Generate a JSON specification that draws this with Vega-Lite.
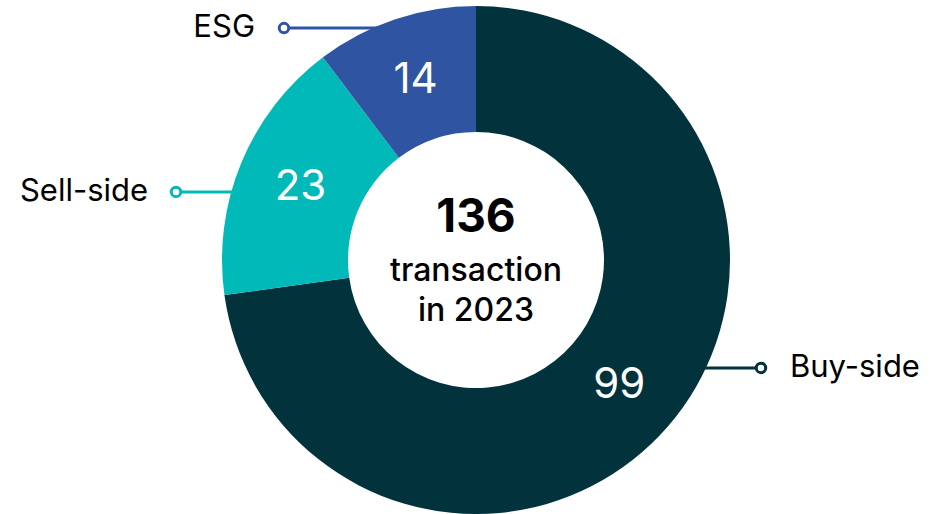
{
  "$schema": "https://vega.github.io/schema/vega-lite/v6.json",
  "autosize": {"type": "fit", "contains": "padding"},
  "width": 940,
  "height": 514,
  "padding": {"left": 12, "top": 6, "right": 0, "bottom": 0},
  "background": "white",
  "config": {"view": {"stroke": null}, "font": "Inter"},
  "datasets": {
    "segments": [
      {"category": "Buy-side", "value": 99, "order": 1},
      {"category": "Sell-side", "value": 23, "order": 2},
      {"category": "ESG", "value": 14, "order": 3}
    ],
    "callouts": [
      {"category": "ESG", "side": "left", "dot_x": -0.756, "edge_x": -0.3, "label_x": -0.87, "y": 0.913},
      {"category": "Sell-side", "side": "left", "dot_x": -1.181, "edge_x": -0.85, "label_x": -1.291, "y": 0.268},
      {"category": "Buy-side", "side": "right", "dot_x": 1.122, "edge_x": 0.8, "label_x": 1.236, "y": -0.425}
    ],
    "center": [
      {"line": "136", "kind": "total", "x": 0, "y": 0.165},
      {"line": "transaction", "kind": "caption", "x": 0, "y": -0.043},
      {"line": "in 2023", "kind": "caption", "x": 0, "y": -0.2}
    ]
  },
  "layer": [
    {
      "data": {"name": "callouts"},
      "mark": {"type": "rule", "strokeWidth": 3},
      "encoding": {
        "x": {"field": "dot_x", "type": "quantitative", "scale": {"domain": [-1.8268, 1.8268], "nice": false, "zero": false}, "axis": null},
        "x2": {"field": "edge_x"},
        "y": {"field": "y", "type": "quantitative", "scale": {"domain": [-1, 1], "nice": false, "zero": false}, "axis": null},
        "color": {"field": "category", "type": "nominal", "scale": {"domain": ["Buy-side", "Sell-side", "ESG"], "range": ["#02333D", "#00B9B8", "#2F54A1"]}, "legend": null}
      }
    },
    {
      "data": {"name": "segments"},
      "mark": {"type": "arc", "outerRadius": 254, "innerRadius": 128},
      "encoding": {
        "theta": {"field": "value", "type": "quantitative", "stack": true},
        "order": {"field": "order", "type": "quantitative"},
        "color": {"field": "category", "type": "nominal", "scale": {"domain": ["Buy-side", "Sell-side", "ESG"], "range": ["#02333D", "#00B9B8", "#2F54A1"]}, "legend": null}
      }
    },
    {
      "data": {"name": "segments"},
      "mark": {"type": "text", "radius": 190, "fontSize": 42, "fontWeight": 400, "fill": "white"},
      "encoding": {
        "theta": {"field": "value", "type": "quantitative", "stack": true},
        "order": {"field": "order", "type": "quantitative"},
        "text": {"field": "value", "type": "quantitative"}
      }
    },
    {
      "data": {"name": "callouts"},
      "mark": {"type": "point", "shape": "circle", "filled": false, "fill": "white", "strokeWidth": 3, "size": 90, "opacity": 1},
      "encoding": {
        "x": {"field": "dot_x", "type": "quantitative"},
        "y": {"field": "y", "type": "quantitative"},
        "color": {"field": "category", "type": "nominal", "scale": {"domain": ["Buy-side", "Sell-side", "ESG"], "range": ["#02333D", "#00B9B8", "#2F54A1"]}, "legend": null}
      }
    },
    {
      "data": {"name": "callouts"},
      "transform": [{"filter": "datum.side === 'left'"}],
      "mark": {"type": "text", "align": "right", "baseline": "middle", "fontSize": 31, "fontWeight": 400, "fill": "black"},
      "encoding": {
        "x": {"field": "label_x", "type": "quantitative"},
        "y": {"field": "y", "type": "quantitative"},
        "text": {"field": "category", "type": "nominal"}
      }
    },
    {
      "data": {"name": "callouts"},
      "transform": [{"filter": "datum.side === 'right'"}],
      "mark": {"type": "text", "align": "left", "baseline": "middle", "fontSize": 31, "fontWeight": 400, "fill": "black"},
      "encoding": {
        "x": {"field": "label_x", "type": "quantitative"},
        "y": {"field": "y", "type": "quantitative"},
        "text": {"field": "category", "type": "nominal"}
      }
    },
    {
      "data": {"name": "center"},
      "transform": [{"filter": "datum.kind === 'total'"}],
      "mark": {"type": "text", "align": "center", "baseline": "middle", "fontSize": 46, "fontWeight": "bold", "fill": "black"},
      "encoding": {
        "x": {"field": "x", "type": "quantitative"},
        "y": {"field": "y", "type": "quantitative"},
        "text": {"field": "line", "type": "nominal"}
      }
    },
    {
      "data": {"name": "center"},
      "transform": [{"filter": "datum.kind === 'caption'"}],
      "mark": {"type": "text", "align": "center", "baseline": "middle", "fontSize": 32, "fontWeight": 500, "fill": "black"},
      "encoding": {
        "x": {"field": "x", "type": "quantitative"},
        "y": {"field": "y", "type": "quantitative"},
        "text": {"field": "line", "type": "nominal"}
      }
    }
  ]
}
